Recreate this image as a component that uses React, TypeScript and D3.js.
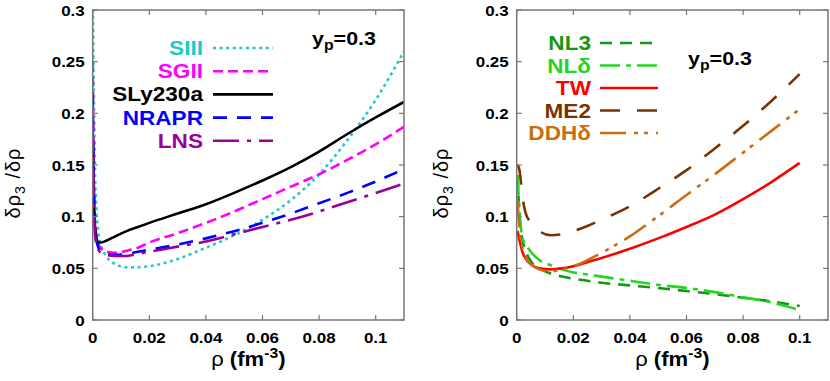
import React from 'react'
import * as d3 from 'd3'

// density grids (fm^-3)
const rhoLeft = [0, 0.0005, 0.001, 0.002, 0.003, 0.005, 0.008, 0.012, 0.016, 0.02, 0.03, 0.04, 0.05, 0.06, 0.07, 0.08, 0.09, 0.1, 0.11]
const rhoRight = [0.0003, 0.001, 0.002, 0.003, 0.005, 0.008, 0.012, 0.016, 0.02, 0.025, 0.03, 0.04, 0.05, 0.06, 0.07, 0.08, 0.09, 0.1]

// left panel: Skyrme forces
const siii = [0.32, 0.2, 0.125, 0.085, 0.072, 0.061, 0.054, 0.051, 0.051, 0.052, 0.059, 0.07, 0.082, 0.097, 0.116, 0.141, 0.174, 0.213, 0.26]
const sgii = [0.25, 0.12, 0.088, 0.074, 0.069, 0.066, 0.065, 0.067, 0.07, 0.075, 0.084, 0.094, 0.105, 0.117, 0.129, 0.141, 0.155, 0.17, 0.187]
const sly230a = [0.18, 0.11, 0.085, 0.075, 0.075, 0.077, 0.081, 0.086, 0.09, 0.094, 0.103, 0.112, 0.123, 0.135, 0.148, 0.163, 0.18, 0.196, 0.211]
const nrapr = [0.22, 0.11, 0.082, 0.07, 0.066, 0.064, 0.063, 0.064, 0.066, 0.068, 0.073, 0.079, 0.086, 0.094, 0.103, 0.113, 0.123, 0.134, 0.146]
const lns = [0.19, 0.1, 0.078, 0.068, 0.065, 0.063, 0.062, 0.062, 0.064, 0.066, 0.071, 0.076, 0.083, 0.09, 0.097, 0.105, 0.114, 0.123, 0.132]

// right panel: relativistic models
const nl3 = [0.14, 0.1, 0.078, 0.068, 0.057, 0.05, 0.045, 0.042, 0.04, 0.038, 0.036, 0.0335, 0.031, 0.028, 0.025, 0.0215, 0.018, 0.0135]
const nld = [0.14, 0.105, 0.08, 0.074, 0.066, 0.058, 0.053, 0.049, 0.046, 0.044, 0.042, 0.038, 0.034, 0.031, 0.027, 0.022, 0.017, 0.0097]
const tw = [0.086, 0.077, 0.066, 0.06, 0.054, 0.05, 0.049, 0.05, 0.052, 0.056, 0.06, 0.069, 0.079, 0.09, 0.102, 0.117, 0.1335, 0.152]
const me2 = [0.15, 0.145, 0.12, 0.105, 0.094, 0.086, 0.082, 0.083, 0.086, 0.091, 0.097, 0.11, 0.127, 0.145, 0.166, 0.188, 0.212, 0.238]
const ddhd = [0.115, 0.088, 0.07, 0.062, 0.054, 0.049, 0.047, 0.049, 0.052, 0.058, 0.065, 0.081, 0.1005, 0.121, 0.141, 0.162, 0.183, 0.204]

const xTicks = [0, 0.02, 0.04, 0.06, 0.08, 0.1]
const xTickLabels = ['0', '0.02', '0.04', '0.06', '0.08', '0.1']
const yTicks = [0, 0.05, 0.1, 0.15, 0.2, 0.25, 0.3]
const yTickLabels = ['0', '0.05', '0.1', '0.15', '0.2', '0.25', '0.3']

const FONT = "'Liberation Sans', Arial, Helvetica, sans-serif"
const SX = 1.13
const FRAME = '#777'

type Series = { name: string, ys: number[], color: string, dash: string }

const leftSeries: Series[] = [
  { name: 'SIII', ys: siii, color: '#22c8c8', dash: '3,3.6' },
  { name: 'SGII', ys: sgii, color: '#ff00ff', dash: '10,5' },
  { name: 'SLy230a', ys: sly230a, color: '#000000', dash: '' },
  { name: 'NRAPR', ys: nrapr, color: '#0000ff', dash: '14,10' },
  { name: 'LNS', ys: lns, color: '#990099', dash: '26,8,4,8' },
]
const rightSeries: Series[] = [
  { name: 'NL3', ys: nl3, color: '#129812', dash: '12,8' },
  { name: 'NLδ', ys: nld, color: '#22d622', dash: '20,6,5,6' },
  { name: 'TW', ys: tw, color: '#ff0000', dash: '' },
  { name: 'ME2', ys: me2, color: '#7a3300', dash: '20,17' },
  { name: 'DDHδ', ys: ddhd, color: '#cc6c10', dash: '26,8,4,6,4,8' },
]

function T({ x, y, anchor = 'start', size, bold = true, fill = '#000', children }: any) {
  return (
    <text transform={`translate(${x},${y}) scale(${SX},1)`} textAnchor={anchor}
      fontSize={size} fontWeight={bold ? 'bold' : 'normal'} fontFamily={FONT} fill={fill}>
      {children}
    </text>
  )
}

function Panel({ id, left, right, rho, series, legendX, legendY0, legendStep, lineX0, lineX1, ypX, ypY, yLabelX }: any) {
  const top = 10, bottom = 320
  const x = d3.scaleLinear().domain([0, 0.11]).range([left, right])
  const y = d3.scaleLinear().domain([0, 0.3]).range([bottom, top])
  const line = d3.line<number>()
    .x((_, i) => x(rho[i]))
    .y(d => y(d))
    .curve(d3.curveMonotoneX)
  const tl = 5
  return (
    <g>
      <defs>
        <clipPath id={`clip-${id}`}>
          <rect x={left} y={top} width={right - left} height={bottom - top} />
        </clipPath>
      </defs>
      <g clipPath={`url(#clip-${id})`}>
        {series.map((s: Series) => (
          <path key={s.name} d={line(s.ys) || ''} fill="none" stroke={s.color}
            strokeWidth={2.6} strokeDasharray={s.dash || undefined} />
        ))}
      </g>
      {/* frame and ticks */}
      <rect x={left} y={top} width={right - left} height={bottom - top} fill="none" stroke={FRAME} strokeWidth={1.5} />
      {xTicks.map((t, i) => (
        <g key={'x' + t}>
          <line x1={x(t)} x2={x(t)} y1={bottom} y2={bottom - tl} stroke={FRAME} strokeWidth={1.2} />
          <line x1={x(t)} x2={x(t)} y1={top} y2={top + tl} stroke={FRAME} strokeWidth={1.2} />
          <T x={x(t)} y={bottom + 23} anchor="middle" size={15}>{xTickLabels[i]}</T>
        </g>
      ))}
      {yTicks.map((t, i) => (
        <g key={'y' + t}>
          <line x1={left} x2={left + tl} y1={y(t)} y2={y(t)} stroke={FRAME} strokeWidth={1.2} />
          <line x1={right} x2={right - tl} y1={y(t)} y2={y(t)} stroke={FRAME} strokeWidth={1.2} />
          <T x={left - 8} y={y(t) + 5.5} anchor="end" size={15}>{yTickLabels[i]}</T>
        </g>
      ))}
      {/* axis titles */}
      <text transform={`translate(${(left + right) / 2},366) scale(1.05,1)`} textAnchor="middle"
        fontSize={21} fontFamily={FONT}>
        <tspan>ρ </tspan><tspan fontWeight="bold">(fm</tspan>
        <tspan fontWeight="bold" fontSize={15} dy={-8}>-3</tspan>
        <tspan fontWeight="bold" dy={8}>)</tspan>
      </text>
      <text transform={`translate(${yLabelX},183) rotate(-90)`} textAnchor="middle"
        fontSize={20} fontFamily={FONT} letterSpacing={1}>
        <tspan>δρ</tspan><tspan fontSize={14} dy={5}>3</tspan><tspan dy={-5}> /δρ</tspan>
      </text>
      {/* legend */}
      {series.map((s: Series, i: number) => {
        const by = legendY0 + i * legendStep
        return (
          <g key={'leg' + s.name}>
            <T x={legendX} y={by} anchor="end" size={20} fill={s.color}>{s.name}</T>
            <line x1={lineX0} x2={lineX1} y1={by - 7} y2={by - 7} stroke={s.color}
              strokeWidth={2.6} strokeDasharray={s.dash || undefined} />
          </g>
        )
      })}
      <text transform={`translate(${ypX},${ypY}) scale(${SX},1)`} fontSize={19}
        fontWeight="bold" fontFamily={FONT}>
        <tspan>y</tspan><tspan fontSize={14} dy={5}>p</tspan><tspan dy={-5}>=0.3</tspan>
      </text>
    </g>
  )
}

export default function App() {
  return (
    <svg width={830} height={381} style={{ position: 'absolute', left: 0, top: 0, background: '#fff' }}>
      <Panel id="l" left={92.7} right={404} rho={rhoLeft} series={leftSeries}
        legendX={203} legendY0={55} legendStep={23.2} lineX0={213} lineX1={273}
        ypX={312} ypY={45} yLabelX={20} />
      <Panel id="r" left={516.7} right={828} rho={rhoRight} series={rightSeries}
        legendX={591} legendY0={50} legendStep={22.5} lineX0={600} lineX1={658}
        ypX={688} ypY={65} yLabelX={448} />
    </svg>
  )
}
